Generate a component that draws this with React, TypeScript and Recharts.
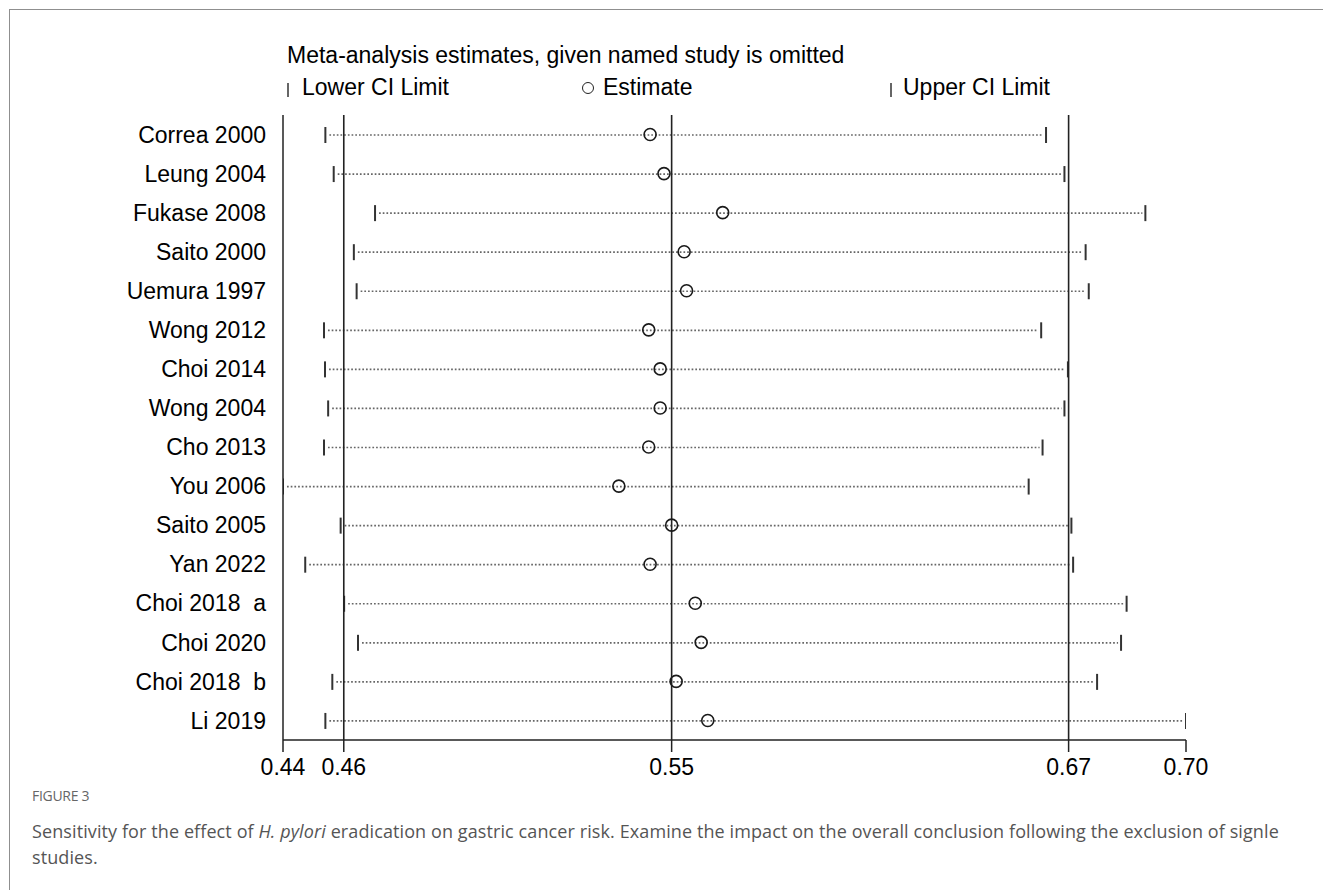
import { ComposedChart, Bar, Line, XAxis, YAxis, ReferenceLine } from 'recharts';

const studies = [
    'Correa 2000', 'Leung 2004', 'Fukase 2008', 'Saito 2000', 'Uemura 1997', 'Wong 2012',
    'Choi 2014', 'Wong 2004', 'Cho 2013', 'You 2006', 'Saito 2005', 'Yan 2022',
    'Choi 2018\u00a0\u00a0a', 'Choi 2020', 'Choi 2018\u00a0\u00a0b', 'Li 2019',
];
const lowerCI = [
    0.4522, 0.4546, 0.4665, 0.4604, 0.4612, 0.4518, 0.4521, 0.4530,
    0.4518, 0.4400, 0.4566, 0.4464, 0.4576, 0.4616, 0.4542, 0.4522,
];
const estimate = [
    0.5457, 0.5497, 0.5666, 0.5555, 0.5562, 0.5453, 0.5486, 0.5486,
    0.5453, 0.5367, 0.5519, 0.5457, 0.5587, 0.5604, 0.5532, 0.5623,
];
const upperCI = [
    0.6597, 0.6650, 0.6883, 0.6711, 0.6720, 0.6583, 0.6660, 0.6650,
    0.6587, 0.6547, 0.6670, 0.6675, 0.6829, 0.6813, 0.6744, 0.7000,
];

// overall pooled estimate and CI (drawn as full-height lines)
const overall = [0.4575, 0.5519, 0.6662];
const tickValues = [0.44, 0.4575, 0.5519, 0.6662, 0.70];
const tickLabels = ['0.44', '0.46', '0.55', '0.67', '0.70'];

const data = studies.map((name, i) => ({
    name,
    ci: [lowerCI[i], upperCI[i]],
    est: estimate[i],
}));

const font = "'Liberation Sans', Arial, sans-serif";
const ink = '#000';

const CIShape = (props: any) => {
    const { x, y, width, height } = props;
    const cy = y + height / 2;
    return (
        <g>
            <line x1={x + 4} x2={x + width - 3} y1={cy} y2={cy} stroke="#666" strokeWidth={1.7} strokeDasharray="1.7 2.0" />
            <line x1={x} x2={x} y1={y} y2={y + height} stroke="#333" strokeWidth={2} />
            <line x1={x + width} x2={x + width} y1={y} y2={y + height} stroke="#333" strokeWidth={2} />
        </g>
    );
};

const EstDot = (props: any) => (
    <circle key={props.index} cx={props.cx} cy={props.cy} r={6} fill="none" stroke="#1a1a1a" strokeWidth={1.6} />
);

export default function App() {
    return (
        <div style={{ position: 'absolute', left: 0, top: 0, width: 1323, height: 890, background: '#fff', overflow: 'hidden' }}>
            <div style={{ position: 'absolute', left: 9, top: 9, width: 1320, height: 890, borderTop: '1.5px solid #8f8f8f', borderLeft: '1.5px solid #8f8f8f' }} />

            <ComposedChart
                width={1323}
                height={890}
                data={data}
                layout="vertical"
                margin={{ top: 115, right: 137, bottom: 110, left: 0 }}
                style={{ position: 'absolute', left: 0, top: 0 }}
            >
                <XAxis
                    type="number"
                    domain={[0.44, 0.70]}
                    ticks={tickValues}
                    interval={0}
                    allowDataOverflow
                    tickFormatter={(v: number) => tickLabels[tickValues.indexOf(v)]}
                    height={40}
                    tickSize={12}
                    tickMargin={7}
                    axisLine={{ stroke: '#222', strokeWidth: 1.5 }}
                    tickLine={{ stroke: '#222', strokeWidth: 1.5 }}
                    tick={{ fill: ink, fontSize: 23, fontFamily: font }}
                />
                <YAxis
                    type="category"
                    dataKey="name"
                    width={283}
                    interval={0}
                    tickSize={0}
                    tickMargin={17}
                    tickLine={false}
                    axisLine={{ stroke: '#222', strokeWidth: 1.5 }}
                    tick={{ fill: ink, fontSize: 23, fontFamily: font }}
                />
                {overall.map((v) => (
                    <ReferenceLine key={v} x={v} stroke="#222" strokeWidth={1.6} />
                ))}
                <Bar dataKey="ci" barSize={16} shape={<CIShape />} isAnimationActive={false} />
                <Line
                    dataKey="est"
                    stroke="none"
                    strokeWidth={0}
                    dot={<EstDot />}
                    activeDot={false}
                    isAnimationActive={false}
                />
            </ComposedChart>

            <div style={{ position: 'absolute', left: 287, top: 44, fontFamily: font, fontSize: 23, lineHeight: '23px', color: ink, whiteSpace: 'nowrap' }}>
                Meta-analysis estimates, given named study is omitted
            </div>
            <div style={{ position: 'absolute', left: 287, top: 83, width: 2, height: 14, background: '#666' }} />
            <div style={{ position: 'absolute', left: 302, top: 76, fontFamily: font, fontSize: 23, lineHeight: '23px', color: ink, whiteSpace: 'nowrap' }}>
                Lower CI Limit
            </div>
            <div style={{ position: 'absolute', left: 582, top: 82, width: 10, height: 10, borderRadius: '50%', border: '1.5px solid #222' }} />
            <div style={{ position: 'absolute', left: 603, top: 76, fontFamily: font, fontSize: 23, lineHeight: '23px', color: ink, whiteSpace: 'nowrap' }}>
                Estimate
            </div>
            <div style={{ position: 'absolute', left: 890, top: 83, width: 2, height: 14, background: '#666' }} />
            <div style={{ position: 'absolute', left: 903, top: 76, fontFamily: font, fontSize: 23, lineHeight: '23px', color: ink, whiteSpace: 'nowrap' }}>
                Upper CI Limit
            </div>

            <div style={{ position: 'absolute', left: 32, top: 787, fontFamily: "'Open Sans', sans-serif", fontSize: 14, lineHeight: '18px', color: '#666', whiteSpace: 'nowrap', letterSpacing: -0.3 }}>
                FIGURE 3
            </div>
            <div style={{ position: 'absolute', left: 32, top: 818, fontFamily: "'Open Sans', sans-serif", fontSize: 18, lineHeight: '26px', color: '#555', whiteSpace: 'nowrap', letterSpacing: 0.1 }}>
                Sensitivity for the effect of <i>H. pylori</i> eradication on gastric cancer risk. Examine the impact on the overall conclusion following the exclusion of signle
                <br />
                studies.
            </div>
        </div>
    );
}
